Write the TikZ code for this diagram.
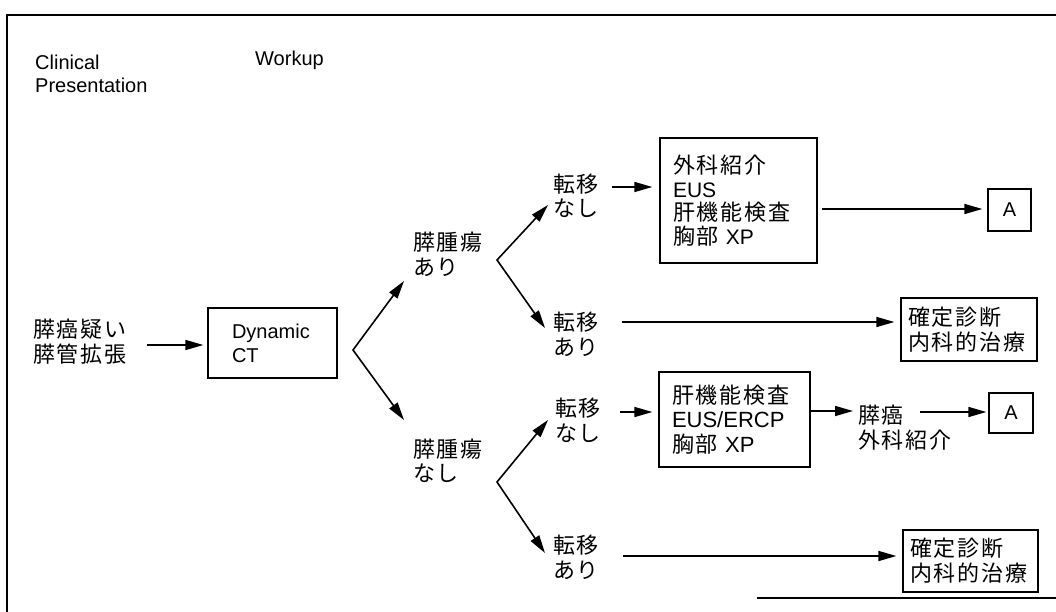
\documentclass[tikz,border=0pt]{standalone}
\usepackage{fontspec}
\setmainfont{Liberation Sans}
\newfontfamily\jpfont[LetterSpace=8]{Noto Sans CJK JP}
\newcommand{\J}[1]{{\fontsize{22}{24}\selectfont\jpfont #1}}
\usetikzlibrary{arrows.meta}
\tikzset{
  box/.style={draw, line width=1.3pt, inner sep=0pt},
  lbl/.style={anchor=west, inner sep=0pt, align=left},
  jlbl/.style={lbl, font=\fontsize{22}{24.5}\selectfont\jpfont},
  arr/.style={line width=1.6pt, -{Triangle[length=18pt,width=10pt]}},
  arrboth/.style={line width=1.6pt, {Triangle[length=18pt,width=10pt]}-{Triangle[length=18pt,width=10pt]}},
  frame/.style={line width=1.1pt}
}
\begin{document}
\begin{tikzpicture}[x=1pt,y=-1pt,font=\fontsize{20}{24}\selectfont]
\useasboundingbox (0,0) rectangle (1056,612);
\fill[white] (0,0) rectangle (1056,612);
% frame
\draw[frame] (7,612) -- (7,15) -- (1056,15);
\draw[frame] (757,598) -- (1056,598);

% headings
\node[lbl, font=\fontsize{20}{23}\selectfont] (clin) at (35,73.5) {Clinical\\Presentation};
\node[anchor=base west, inner sep=0pt] (work) at (255,66) {Workup};

% labels
\node[jlbl] (L1) at (33,341.5) {膵癌疑い\\膵管拡張};
\node[jlbl] (L2) at (413,254.5) {膵腫瘍\\あり};
\node[jlbl] (L3) at (413,461) {膵腫瘍\\なし};
\node[jlbl] (M1) at (553,196) {転移\\なし};
\node[jlbl] (M2) at (553,334.5) {転移\\あり};
\node[jlbl] (M3) at (555,420.5) {転移\\なし};
\node[jlbl] (M4) at (553,557.5) {転移\\あり};
\node[jlbl] (P) at (858,427.5) {膵癌\\外科紹介};

% boxes
\node[box, minimum width=129, minimum height=70, text width=81pt, align=left] (dct) at (272.5,343) {Dynamic\\CT};
\node[box, minimum width=157, minimum height=125, text width=131pt, align=left, font=\fontsize{21}{23.5}\selectfont] (box1) at (738.5,200.5) {\J{外科紹介}\\EUS\\\J{肝機能検査}\\\J{胸部} XP};
\node[box, minimum width=151, minimum height=95, text width=125pt, align=left, font=\fontsize{22}{24.5}\selectfont] (box2) at (734.5,419.5) {\J{肝機能検査}\\EUS/ERCP\\\J{胸部} XP};
\node[box, minimum width=136, minimum height=63, text width=122pt, align=left, font=\fontsize{22}{25}\selectfont\jpfont] (K1) at (969,329.5) {確定診断\\内科的治療};
\node[box, minimum width=135, minimum height=62, text width=121pt, align=left, font=\fontsize{22}{25}\selectfont\jpfont] (K2) at (970.5,561) {確定診断\\内科的治療};
\node[box, minimum width=43, minimum height=42] (A1) at (1009.5,210) {A};
\node[box, minimum width=44, minimum height=40] (A2) at (1011,413) {A};

% connectors
\coordinate (s0) at (147,345);
\draw[arr, shorten >=4pt] (s0) -- (s0 -| dct.west);

\coordinate (v1) at (353,350);
\coordinate (t1u) at (404,281);
\coordinate (t1d) at (404,420);
\draw[arrboth] (t1u) -- (v1) -- (t1d);

\coordinate (v2) at (497,260);
\coordinate (t2u) at (548,205);
\coordinate (t2d) at (545,328);
\draw[arrboth] (t2u) -- (v2) -- (t2d);

\coordinate (v3) at (497,482);
\coordinate (t3u) at (548,420);
\coordinate (t3d) at (545,553);
\draw[arrboth] (t3u) -- (v3) -- (t3d);

\coordinate (s1) at (612,187);
\draw[arr, shorten >=7pt] (s1) -- (s1 -| box1.west);
\coordinate (s1b) at (822,209);
\draw[arr, shorten >=5pt] (s1b) -- (s1b -| A1.west);

\coordinate (s2) at (622,322);
\draw[arr, shorten >=6pt] (s2) -- (s2 -| K1.west);

\coordinate (s3) at (620,412);
\draw[arr, shorten >=6pt] (s3) -- (s3 -| box2.west);
\coordinate (s4) at (853,411);
\draw[arr] (s4 -| box2.east) -- (s4);
\coordinate (s5) at (920,412);
\draw[arr, shorten >=2pt] (s5) -- (s5 -| A2.west);

\coordinate (s6) at (623,556);
\draw[arr, shorten >=6pt] (s6) -- (s6 -| K2.west);
\end{tikzpicture}
\end{document}
